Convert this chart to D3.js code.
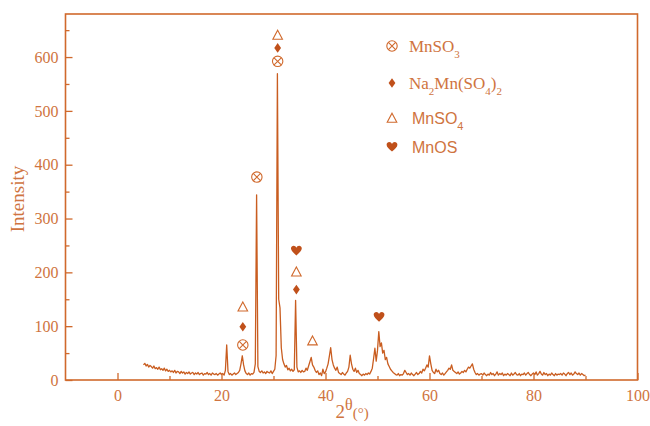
<!DOCTYPE html>
<html>
<head>
<meta charset="utf-8">
<script src="https://cdn.jsdelivr.net/npm/d3@7"></script>
<style>
  body { margin: 0; background: #fff; }
  svg { display: block; }
</style>
</head>
<body>
<svg id="chart" width="650" height="426"></svg>
<script>
// XRD pattern, 2theta from 5 to 90 deg, step 0.25
var startAngle = 5
var stepAngle = 0.25
var intensity = [
  28,31,26,29,24,27,25,22,26,21,23,20,24,19,21,18,22,17,20,16,   // 5
  18,15,17,14,18,13,16,15,12,16,13,15,11,14,12,15,11,13,14,10,   // 10
  13,11,14,10,12,13,9,12,11,14,10,12,9,13,11,10,12,9,11,13,      // 15
  10,12,9,18,65,16,10,12,9,11,13,10,12,14,18,30,45,28,17,12,     // 20
  10,13,9,12,11,14,30,344,25,16,14,17,13,15,12,16,14,13,17,12,   // 25
  16,20,45,569,150,134,60,38,30,24,27,19,22,17,20,16,19,148,24,15, // 30
  17,14,18,15,16,22,18,26,34,42,28,24,18,14,17,10,13,8,20,12,    // 35
  15,22,30,45,60,38,28,22,18,24,14,12,10,14,11,9,13,16,24,46,    // 40
  30,20,16,22,14,18,12,10,8,11,9,12,10,13,11,16,22,40,59,35,     // 45
  55,90,62,69,50,55,38,42,30,25,20,17,14,12,10,9,12,8,10,9,      // 50
  12,18,14,10,12,9,13,10,8,11,14,10,12,16,13,20,17,22,28,24,     // 55
  45,30,18,14,12,20,15,18,12,10,13,9,12,15,18,22,20,28,18,16,    // 60
  14,12,15,11,13,16,14,18,15,20,24,22,26,30,20,14,10,12,9,11,    // 65
  12,9,13,10,8,11,9,14,10,12,8,11,15,9,12,10,13,8,11,9,          // 70
  12,10,8,13,9,11,14,10,9,12,8,11,10,13,9,12,14,10,8,11,         // 75
  13,10,15,9,12,16,11,9,14,10,12,8,11,9,13,10,8,12,9,11,         // 80
  10,12,9,13,11,8,12,14,10,13,9,11,15,12,10,13,9,12,10,8,        // 85
  9                                                              // 90
]

// phase markers placed over the peaks: [symbol, 2theta, intensity level]
var markers = [
  ["cross", 24.1, 65], ["diamond", 24.1, 99], ["triangle", 24.1, 136],
  ["cross", 26.8, 377],
  ["cross", 30.8, 592], ["diamond", 30.8, 617], ["triangle", 30.8, 641],
  ["diamond", 34.4, 168], ["triangle", 34.4, 201], ["heart", 34.4, 240],
  ["triangle", 37.5, 73],
  ["heart", 50.3, 117]
]

var xTicks = [0, 20, 40, 60, 80, 100]
var xMinor = [10, 30, 50, 70, 90]
var yTicks = [0, 100, 200, 300, 400, 500, 600]
var yMinor = [50, 150, 250, 350, 450, 550, 650]

var dimensions = {
  width: 650,
  height: 426,
  margin: { top: 14, bottom: 46, right: 12, left: 65 }
}

var axisColor = "#d0692c"
var textColor = "#cf7440"
var lineColor = "#c95d20"
var darkColor = "#c0501a"

var svg = d3.select("#chart")

var dataset = intensity.map((v, i) => ({ angle: startAngle + i * stepAngle, value: v }))

var xAccessor = d => d.angle
var yAccessor = d => d.value

var xScale = d3.scaleLinear()
  .domain([-10, 100])
  .range([dimensions.margin.left + 0.5, dimensions.width - dimensions.margin.right - 0.5])

var yScale = d3.scaleLinear()
  .domain([0, 680])
  .range([dimensions.height - dimensions.margin.bottom, dimensions.margin.top])

var x0 = xScale.range()[0], x1 = xScale.range()[1]
var y0 = yScale.range()[0], y1 = yScale.range()[1]

// pattern
var line = d3.line()
  .x(d => xScale(xAccessor(d)))
  .y(d => yScale(yAccessor(d)))

svg.append("path")
  .datum(dataset)
  .attr("d", line)
  .style("fill", "none")
  .style("stroke", lineColor)
  .style("stroke-width", 1.3)
  .style("stroke-linejoin", "round")

// axes, ticks pointing inward
var xAxisgen = d3.axisBottom(xScale).tickValues(xTicks).tickSize(-7).tickPadding(10)
var xMinorgen = d3.axisBottom(xScale).tickValues(xMinor).tickSize(-4).tickFormat("")
var yAxisgen = d3.axisLeft(yScale).tickValues(yTicks).tickSize(-7).tickPadding(7)
var yMinorgen = d3.axisLeft(yScale).tickValues(yMinor).tickSize(-4).tickFormat("")

function styleAxis(g) {
  g.select(".domain").remove()
  g.selectAll(".tick line").attr("stroke", axisColor).attr("stroke-width", 1.3)
  g.selectAll(".tick text")
    .attr("fill", textColor)
    .style("font-family", "'Liberation Serif', 'Times New Roman', serif")
    .style("font-size", "16px")
}

svg.append("g").attr("transform", `translate(0,${y0})`).call(xAxisgen).call(styleAxis)
svg.append("g").attr("transform", `translate(0,${y0})`).call(xMinorgen).call(styleAxis)
svg.append("g").attr("transform", `translate(${x0},0)`).call(yAxisgen).call(styleAxis)
svg.append("g").attr("transform", `translate(${x0},0)`).call(yMinorgen).call(styleAxis)

// frame
svg.append("rect")
  .attr("x", x0).attr("y", y1)
  .attr("width", x1 - x0).attr("height", y0 - y1)
  .style("fill", "none")
  .style("stroke", axisColor)
  .style("stroke-width", 1.6)

// axis titles
svg.append("text")
  .attr("transform", `translate(24,${(y0 + y1) / 2 + 2}) rotate(-90)`)
  .attr("text-anchor", "middle")
  .attr("fill", textColor)
  .style("font-family", "'Liberation Serif', serif")
  .style("font-size", "19px")
  .text("Intensity")

var xTitle = svg.append("text")
  .attr("x", (x0 + x1) / 2 - 16)
  .attr("y", 418)
  .attr("fill", textColor)
  .style("font-family", "'Liberation Serif', serif")
  .style("font-size", "19px")
xTitle.append("tspan").text("2")
xTitle.append("tspan").attr("dy", -8).style("font-size", "16px").text("θ")
xTitle.append("tspan").attr("dy", 8).style("font-size", "15px").text("(°)")

// symbol drawing
function drawSymbol(g, type) {
  if (type == "cross") {
    g.append("circle").attr("r", 5.2)
      .style("fill", "none").style("stroke", axisColor).style("stroke-width", 1.1)
    g.append("path").attr("d", "M-3.6,-3.6L3.6,3.6M-3.6,3.6L3.6,-3.6")
      .style("stroke", axisColor).style("stroke-width", 1.1)
  } else if (type == "diamond") {
    g.append("path").attr("d", "M0,-4.8L3.4,0L0,4.8L-3.4,0Z")
      .style("fill", darkColor)
  } else if (type == "triangle") {
    g.append("path").attr("d", "M0,-4.8L4.8,4.2L-4.8,4.2Z")
      .style("fill", "none").style("stroke", axisColor).style("stroke-width", 1.1)
  } else if (type == "heart") {
    g.append("path")
      .attr("d", "M0,4.6C-3,2 -5.4,0 -5.4,-2.2C-5.4,-4.2 -4,-5 -2.8,-5C-1.5,-5 -0.4,-4.2 0,-3C0.4,-4.2 1.5,-5 2.8,-5C4,-5 5.4,-4.2 5.4,-2.2C5.4,0 3,2 0,4.6Z")
      .style("fill", darkColor)
  }
}

svg.selectAll(".marker")
  .data(markers)
  .enter()
  .append("g")
  .attr("class", "marker")
  .attr("transform", d => `translate(${xScale(d[1])},${yScale(d[2])})`)
  .each(function (d) { drawSymbol(d3.select(this), d[0]) })

// legend
var legendItems = [
  { type: "cross", parts: [["MnSO", 0], ["3", 1]], font: "serif", dx: 17 },
  { type: "diamond", parts: [["Na", 0], ["2", 1], ["Mn(SO", 0], ["4", 1], [")", 0], ["2", 1]], font: "serif", dx: 17 },
  { type: "triangle", parts: [["MnSO", 0], ["4", 1]], font: "sans", dx: 20 },
  { type: "heart", parts: [["MnOS", 0]], font: "sans", dx: 20 }
]
var legendY = [46, 83, 118, 147]

var legend = svg.append("g").attr("transform", "translate(392,0)")

legendItems.forEach((item, i) => {
  var g = legend.append("g").attr("transform", `translate(0,${legendY[i]})`)
  drawSymbol(g, item.type)
  var t = g.append("text")
    .attr("x", item.dx)
    .attr("y", 6)
    .attr("fill", textColor)
    .style("font-family", item.font == "serif" ? "'Liberation Serif', serif" : "'Liberation Sans', Arial, sans-serif")
    .style("font-size", item.font == "serif" ? "17px" : "16px")
  var sub = false
  item.parts.forEach(p => {
    var s = t.append("tspan").text(p[0])
    if (p[1] && !sub) { s.attr("dy", 6).style("font-size", "11px"); sub = true }
    else if (!p[1] && sub) { s.attr("dy", -6); sub = false }
    else if (p[1]) s.style("font-size", "11px")
  })
})
</script>
</body>
</html>
